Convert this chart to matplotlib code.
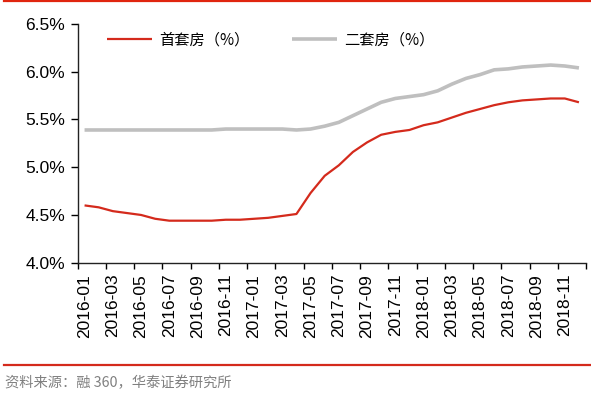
import matplotlib
matplotlib.use("Agg")
import matplotlib.pyplot as plt
from matplotlib.lines import Line2D

plt.rcParams['font.family'] = ['Liberation Sans', 'Noto Sans CJK SC', 'DejaVu Sans']

months = [f"{y}-{m:02d}" for y in (2016, 2017, 2018) for m in range(1, 13)]
first_home = [4.60, 4.58, 4.54, 4.52, 4.50, 4.46, 4.44, 4.44, 4.44, 4.44, 4.45, 4.45,
              4.46, 4.47, 4.49, 4.51, 4.73, 4.91, 5.02, 5.16, 5.26, 5.34, 5.37, 5.39,
              5.44, 5.47, 5.52, 5.57, 5.61, 5.65, 5.68, 5.70, 5.71, 5.72, 5.72, 5.68]
second_home = [5.39, 5.39, 5.39, 5.39, 5.39, 5.39, 5.39, 5.39, 5.39, 5.39, 5.40, 5.40,
               5.40, 5.40, 5.40, 5.39, 5.40, 5.43, 5.47, 5.54, 5.61, 5.68, 5.72, 5.74,
               5.76, 5.80, 5.87, 5.93, 5.97, 6.02, 6.03, 6.05, 6.06, 6.07, 6.06, 6.04]
yticks = [4.0, 4.5, 5.0, 5.5, 6.0, 6.5]
labels = ["首套房（%）", "二套房（%）"]
source = "资料来源：融 360，华泰证券研究所"

RED = "#D42A1C"
GRAY = "#BFBFBF"

fig = plt.figure(figsize=(5.91, 3.95), dpi=100)
ax = fig.add_axes([77.5/591, (395-262.7)/395, (586-77.5)/591, (262.7-24)/395])

x = list(range(len(months)))
ax.plot(x, first_home, color=RED, lw=1.6, label=labels[0], solid_capstyle='butt')
ax.plot(x, second_home, color=GRAY, lw=2.6, label=labels[1], solid_capstyle='butt')

ax.set_xlim(-0.5, len(months) - 0.5)
ax.set_ylim(4.0, 6.5)
ax.set_yticks(yticks)
ax.set_yticklabels([f"{v:.1f}%" for v in yticks], fontsize=12.5)

ax.set_xticks([i - 0.5 for i in range(0, len(months) + 1, 2)])
ax.set_xticklabels([])
ax.set_xticks(x[::2], minor=True)
ax.set_xticklabels(months[::2], minor=True, rotation=90, fontsize=12.5)
ax.tick_params(axis='x', which='minor', length=0, pad=8)
ax.tick_params(axis='x', which='major', length=4, width=1, direction='out')
ax.tick_params(axis='y', length=5, width=1, direction='out', pad=4)

for s in ('top', 'right'):
    ax.spines[s].set_visible(False)
for s in ('left', 'bottom'):
    ax.spines[s].set_color('#222222')
    ax.spines[s].set_linewidth(1.0)

leg = ax.legend(loc='center left', bbox_to_anchor=(107/591, 1 - 40/395), bbox_transform=fig.transFigure,
                ncol=2, frameon=False, prop={'family': ['Noto Sans CJK SC'], 'size': 11},
                handlelength=2.95, handletextpad=0.45, columnspacing=2.8, borderpad=0, borderaxespad=0)

# decorative rules
fig.add_artist(Line2D([4/591, 1.0], [1 - 1/395, 1 - 1/395], color="#E0250F", lw=1.6, transform=fig.transFigure))
fig.add_artist(Line2D([4/591, 1.0], [1 - 364.5/395, 1 - 364.5/395], color="#D42A1C", lw=1.6, transform=fig.transFigure))

fig.text(5/591, 1 - 383/395, source, fontsize=10.3, color="#808080", va='center', ha='left',
         family=['Noto Sans CJK SC', 'DejaVu Sans'])

fig.savefig("out.png", dpi=100)
